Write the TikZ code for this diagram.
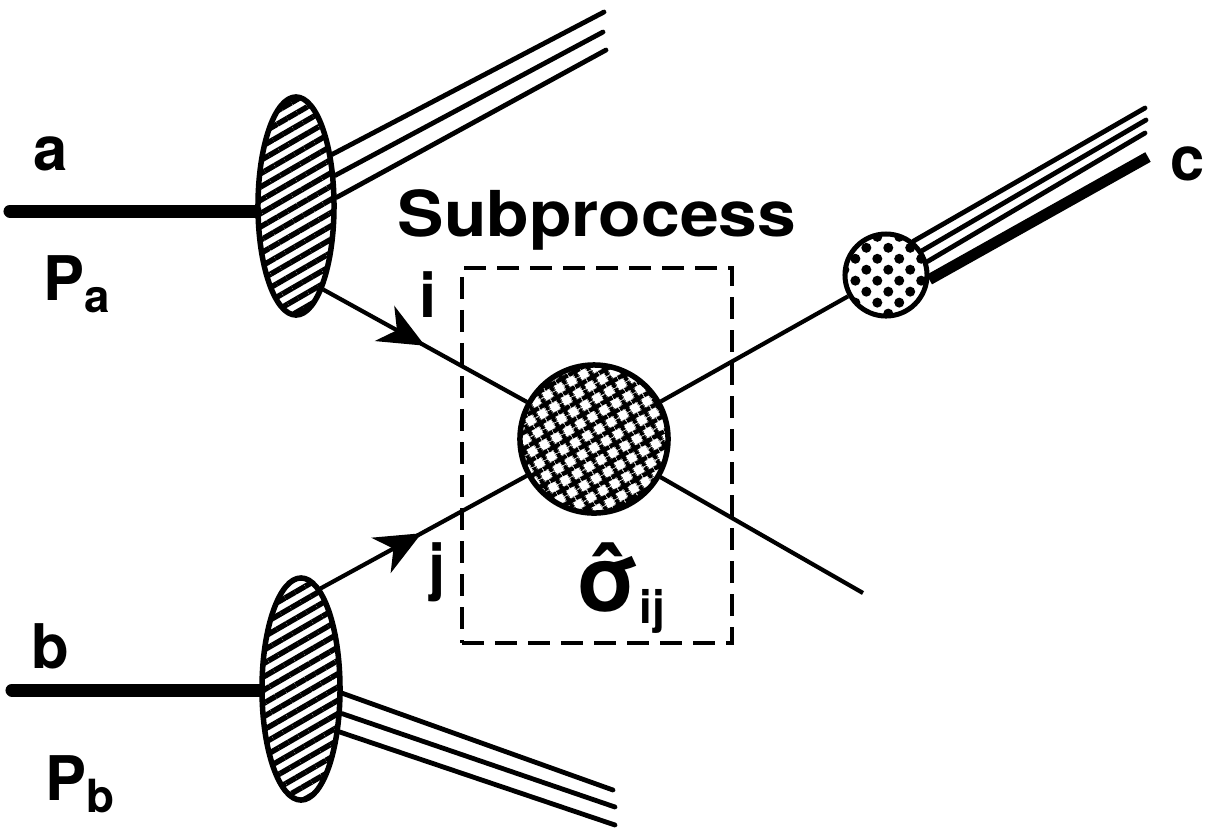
\documentclass[tikz,border=0pt]{standalone}
\usepackage{fontspec}
\setmainfont{TeX Gyre Heros}
\usetikzlibrary{arrows.meta, positioning, shapes.geometric, patterns.meta, decorations.markings}
\newcommand{\lowsub}[1]{\raisebox{-3.5pt}{\fontsize{13}{13}\selectfont #1}}

\begin{document}
\begin{tikzpicture}[
    x=0.01cm, y=-0.01cm,
    lbl/.style={font=\fontsize{17.5}{18}\selectfont\bfseries, inner sep=0pt, anchor=base west},
    beam/.style={line width=0.13cm},
    parton/.style={line width=0.042cm},
    jet/.style={line width=0.048cm, line cap=round},
    hadron/.style={ellipse, draw, line width=0.055cm, pattern={Lines[angle=30, distance=0.115cm, line width=0.055cm]}},
    hard/.style={circle, draw, line width=0.055cm, minimum size=1.48cm, pattern={Hatch[angle=30, distance=0.14cm, line width=0.05cm]}},
    frag/.style={circle, draw, line width=0.05cm, minimum size=0.82cm, pattern={Dots[angle=45, distance=0.155cm, radius=0.05cm]}},
    midarrow/.style={postaction={decorate}, decoration={markings, mark=at position #1 with {\arrow{Stealth[length=0.46cm, width=0.4cm, inset=0.14cm]}}}}
  ]
    \useasboundingbox (0,0) rectangle (1215,829);

    % Incoming hadrons
    \node[hadron, minimum width=0.76cm, minimum height=2.18cm] (hadA) at (296,206) {};
    \node[hadron, minimum width=0.78cm, minimum height=2.22cm] (hadB) at (301,689) {};

    % Hard subprocess and fragmentation
    \node[hard] (hard) at (594,439) {};
    \node[frag] (frag) at (886,275) {};
    \node[draw, line width=0.042cm, dash pattern=on 0.22cm off 0.11cm, minimum width=2.7cm, minimum height=3.75cm] (subbox) at (597,455.5) {};

    % Free ends
    \coordinate (aIn) at (10,211);
    \coordinate (bIn) at (12,690);
    \coordinate (remA1) at (604,12);
    \coordinate (remA2) at (603,32);
    \coordinate (remA3) at (606,50);
    \coordinate (remB1) at (613,790);
    \coordinate (remB2) at (615,807);
    \coordinate (remB3) at (615,825);
    \coordinate (jetC1) at (1145,108);
    \coordinate (jetC2) at (1146,120);
    \coordinate (jetC3) at (1145,133);
    \coordinate (jetC4) at (1148,157);
    \coordinate (outK) at (863,593);

    % Beams
    \draw[beam, line cap=round] (aIn) -- (aIn -| hadA.west);
    \draw[beam, line cap=round] (bIn) -- (bIn -| hadB.west);

    % Remnants
    \draw[jet] (hadA.55) -- (remA1);
    \draw[jet] (hadA.38) -- (remA2);
    \draw[jet] (hadA.12) -- (remA3);
    \draw[jet] (hadB.-6) -- (remB1);
    \draw[jet] (hadB.-31) -- (remB2);
    \draw[jet] (hadB.-48) -- (remB3);

    % Partons
    \draw[parton, midarrow=0.5] (hadA.-72) -- (hard);
    \draw[parton, midarrow=0.49] (hadB.79) -- (hard);
    \draw[parton] (hard) -- (outK);
    \draw[parton] (hard) -- (frag);

    % Jet c
    \draw[jet] (frag.51) -- (jetC1);
    \draw[jet] (frag.34) -- (jetC2);
    \draw[jet] (frag.18) -- (jetC3);
    \draw[line width=0.11cm] (frag.-6) -- (jetC4);

    % Labels
    \node[lbl] (labA) at (33,170) {a};
    \node[lbl] (labPa) at (43,300) {P\lowsub{a}};
    \node[lbl] (labB) at (31,668) {b};
    \node[lbl] (labPb) at (45,800) {P\lowsub{b}};
    \node[lbl] (labC) at (1170,180) {c};
    \node[lbl] (labI) at (419,317) {i};
    \node[lbl] (labJ) at (428,588) {j};
    \node[lbl, font=\fontsize{18}{18}\selectfont\bfseries, xscale=1.1] (labSub) at (397,236) {Subprocess};
    \node[lbl, font=\fontsize{26}{26}\selectfont\bfseries] (labSigma) at (575,611) {\ooalign{σ\cr\hidewidth ˆ\hidewidth\cr}\lowsub{ij}};
  \end{tikzpicture}
\end{document}
